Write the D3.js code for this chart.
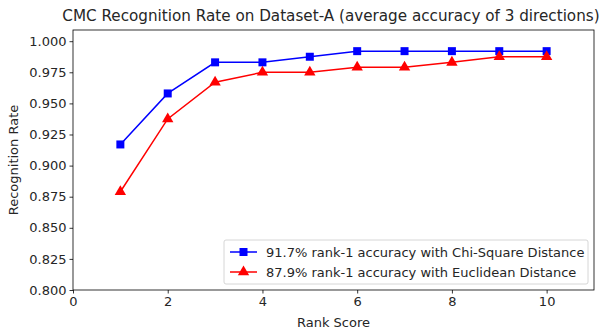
<!DOCTYPE html>
<html>
<head>
<meta charset="utf-8">
<script src="https://cdn.jsdelivr.net/npm/d3@7"></script>
<style>
  body { margin: 0; background: #fff; }
  text { font-family: "DejaVu Sans", sans-serif; fill: #262626; }
</style>
</head>
<body>
<div id="chart"></div>
<script>
// data
const rank = [1, 2, 3, 4, 5, 6, 7, 8, 9, 10];
const chiSquare = [0.917, 0.958, 0.983, 0.983, 0.9875, 0.992, 0.992, 0.992, 0.992, 0.992];
const euclidean = [0.879, 0.9375, 0.967, 0.975, 0.975, 0.979, 0.979, 0.983, 0.9875, 0.9875];
const xTicks = [0, 2, 4, 6, 8, 10];
const yTicks = [0.800, 0.825, 0.850, 0.875, 0.900, 0.925, 0.950, 0.975, 1.000];
const seriesLabels = ["91.7% rank-1 accuracy with Chi-Square Distance",
                      "87.9% rank-1 accuracy with Euclidean Distance"];

const width = 606, height = 333;
const margin = {top: 30, right: 12, bottom: 43, left: 73};
const w = width - margin.left - margin.right,
      h = height - margin.top - margin.bottom;

const svg = d3.select("#chart").append("svg")
    .attr("width", width).attr("height", height);

const g = svg.append("g")
    .attr("transform", "translate(" + margin.left + "," + margin.top + ")");

const x = d3.scaleLinear().domain([0, 11]).range([0, w]);
const y = d3.scaleLinear().domain([0.8, 1.009]).range([h, 0]);

// axes
const xAxis = g.append("g")
    .attr("transform", "translate(0," + h + ")")
    .call(d3.axisBottom(x).tickValues(xTicks).tickSize(3.5).tickPadding(3).tickFormat(d3.format("d")));
const yAxis = g.append("g")
    .call(d3.axisLeft(y).tickValues(yTicks).tickSize(3.5).tickPadding(3).tickFormat(d3.format(".3f")));

[xAxis, yAxis].forEach(function(a) {
    a.select(".domain").remove();
    a.selectAll("line").attr("stroke", "#000").attr("stroke-width", 0.8);
    a.selectAll("text").style("font-size", "13px").attr("fill", "#262626")
        .style("font-family", "DejaVu Sans, sans-serif");
});

// frame
g.append("rect")
    .attr("width", w).attr("height", h)
    .attr("fill", "none").attr("stroke", "#000").attr("stroke-width", 0.8);

const series = [
    {label: seriesLabels[0], values: chiSquare, color: "#0000ff", marker: d3.symbolSquare},
    {label: seriesLabels[1], values: euclidean, color: "#ff0000", marker: d3.symbolTriangle}
];

function markerSize(m) { return m === d3.symbolSquare ? 64 : 56; }

const line = d3.line()
    .x(function(d, i) { return x(rank[i]); })
    .y(function(d) { return y(d); });

series.forEach(function(s) {
    g.append("path")
        .datum(s.values)
        .attr("fill", "none")
        .attr("stroke", s.color)
        .attr("stroke-width", 1.5)
        .attr("d", line);
    g.selectAll(null)
        .data(s.values).enter()
        .append("path")
        .attr("transform", function(d, i) { return "translate(" + x(rank[i]) + "," + y(d) + ")"; })
        .attr("d", d3.symbol().type(s.marker).size(markerSize(s.marker)))
        .attr("fill", s.color);
});

// title & labels
svg.append("text")
    .attr("x", 331).attr("y", 21)
    .attr("text-anchor", "middle")
    .style("font-size", "15.2px")
    .text("CMC Recognition Rate on Dataset-A (average accuracy of 3 directions)");

svg.append("text")
    .attr("x", margin.left + w / 2).attr("y", 327)
    .attr("text-anchor", "middle")
    .style("font-size", "13px")
    .text("Rank Score");

svg.append("text")
    .attr("transform", "translate(18," + (margin.top + h / 2) + ") rotate(-90)")
    .attr("text-anchor", "middle")
    .style("font-size", "13px")
    .text("Recognition Rate");

// legend
const legend = g.append("g")
    .attr("transform", "translate(" + (w - 370) + "," + (h - 50) + ")");
legend.append("rect")
    .attr("width", 364).attr("height", 44)
    .attr("rx", 2)
    .attr("fill", "#fff").attr("fill-opacity", 0.8)
    .attr("stroke", "#ccc").attr("stroke-width", 0.8);
series.forEach(function(s, i) {
    const row = legend.append("g").attr("transform", "translate(0," + (12 + i * 20) + ")");
    row.append("line")
        .attr("x1", 6).attr("x2", 33)
        .attr("stroke", s.color).attr("stroke-width", 1.5);
    row.append("path")
        .attr("transform", "translate(19.5,0)")
        .attr("d", d3.symbol().type(s.marker).size(markerSize(s.marker)))
        .attr("fill", s.color);
    row.append("text")
        .attr("x", 42).attr("dy", "0.35em")
        .style("font-size", "13px")
        .text(s.label);
});
</script>
</body>
</html>
